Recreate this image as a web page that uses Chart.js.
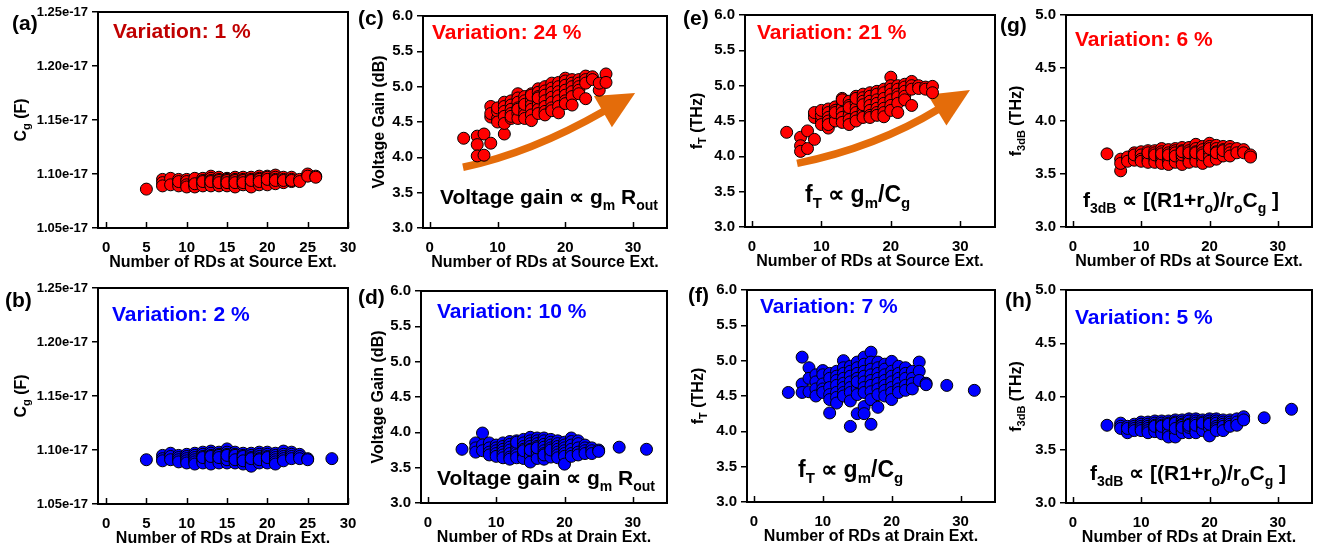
<!DOCTYPE html>
<html><head><meta charset="utf-8">
<script src="https://cdn.jsdelivr.net/npm/chart.js@4.4.0/dist/chart.umd.min.js"></script>
<style>
html,body{margin:0;padding:0;background:#fff;width:1322px;height:553px;overflow:hidden;position:relative;}
canvas{position:absolute;}
</style></head><body>
<script>
// ---------------- DATA ----------------
const sourceRDs = [5,
7,7,7,
8,8,
9,9,9,9,
10,10,10,10,
11,11,11,11,11,11,
12,12,12,12,12,12,
13,13,13,13,13,13,13,
14,14,14,14,14,14,14,
15,15,15,15,15,15,15,15,
16,16,16,16,16,16,16,16,
17,17,17,17,17,17,17,
18,18,18,18,18,18,18,
19,19,19,19,19,19,19,
20,20,20,20,20,20,20,
21,21,21,21,21,21,
22,22,22,22,22,
23,23,23,23,
24,24,
25,25,
26,26];

// Cg in units of 1e-17 F
const cgSource = [1.086,
1.095,1.092,1.089,
1.096,1.090,
1.095,1.092,1.089,1.093,
1.095,1.093,1.090,1.088,
1.094,1.092,1.090,1.088,1.096,1.091,
1.096,1.094,1.092,1.090,1.089,1.093,
1.098,1.096,1.094,1.092,1.090,1.089,1.093,
1.097,1.095,1.093,1.091,1.089,1.094,1.092,
1.096,1.095,1.093,1.091,1.090,1.089,1.094,1.092,
1.097,1.095,1.093,1.091,1.089,1.088,1.094,1.092,
1.097,1.095,1.093,1.091,1.090,1.094,1.092,
1.097,1.095,1.093,1.091,1.089,1.088,1.094,
1.098,1.096,1.094,1.092,1.090,1.095,1.093,
1.098,1.096,1.094,1.092,1.090,1.097,1.095,
1.099,1.097,1.095,1.093,1.091,1.094,
1.097,1.095,1.093,1.092,1.094,
1.097,1.095,1.093,1.094,
1.095,1.093,
1.100,1.098,
1.098,1.097];

const gainSource = [4.27,
4.30,4.18,4.02,
4.33,4.03,
4.20,4.72,4.57,4.62,
4.55,4.65,4.70,4.50,
4.33,4.78,4.72,4.65,4.58,4.48,
4.80,4.74,4.68,4.62,4.55,4.58,
4.90,4.84,4.78,4.70,4.62,4.55,4.68,
4.86,4.80,4.72,4.65,4.60,4.55,4.75,
4.90,4.85,4.80,4.74,4.68,4.60,4.52,4.88,
4.97,4.92,4.86,4.80,4.74,4.68,4.62,4.84,
5.00,4.94,4.88,4.80,4.72,4.65,4.60,
5.05,4.98,4.92,4.85,4.78,4.70,4.66,
5.06,5.00,4.93,4.87,4.80,4.72,4.63,
5.12,5.08,5.02,4.95,4.88,4.80,4.76,
5.10,5.05,5.00,4.93,4.86,4.74,
5.10,5.05,5.00,4.95,4.90,
5.15,5.10,5.05,4.83,
5.14,5.10,
4.95,5.05,
5.18,5.06];

const ftSource = [4.34,
4.27,4.15,4.07,
4.36,4.11,
4.24,4.60,4.55,4.62,
4.50,4.58,4.65,4.45,
4.40,4.67,4.62,4.55,4.50,4.45,
4.70,4.65,4.60,4.55,4.50,4.62,
4.82,4.75,4.68,4.62,4.55,4.48,4.80,
4.78,4.72,4.65,4.58,4.52,4.45,4.69,
4.85,4.80,4.75,4.68,4.62,4.55,4.50,4.82,
4.88,4.83,4.78,4.72,4.65,4.60,4.55,4.73,
4.90,4.85,4.78,4.72,4.65,4.58,4.55,
4.92,4.88,4.80,4.75,4.68,4.62,4.58,
4.95,4.90,4.82,4.75,4.68,4.62,4.56,
5.12,5.00,4.95,4.88,4.80,4.72,4.65,
5.00,4.95,4.88,4.84,4.75,4.62,
5.02,4.98,4.92,4.85,4.80,
5.06,5.00,4.95,4.72,
5.00,4.96,
4.98,4.95,
4.99,4.90];

const f3dbSource = [3.69,
3.53,3.64,3.60,
3.66,3.62,
3.70,3.67,3.63,3.68,
3.71,3.68,3.64,3.62,
3.72,3.69,3.66,3.63,3.61,3.70,
3.72,3.70,3.67,3.64,3.61,3.68,
3.74,3.71,3.68,3.65,3.62,3.60,3.69,
3.73,3.70,3.67,3.64,3.61,3.59,3.68,
3.74,3.72,3.69,3.66,3.63,3.61,3.70,3.67,
3.75,3.72,3.69,3.66,3.63,3.59,3.68,3.71,
3.75,3.72,3.69,3.66,3.63,3.61,3.70,
3.78,3.74,3.71,3.68,3.65,3.62,3.70,
3.76,3.73,3.70,3.67,3.64,3.60,3.68,
3.79,3.76,3.73,3.70,3.66,3.62,3.74,
3.77,3.74,3.71,3.68,3.64,3.70,
3.76,3.73,3.70,3.67,3.72,
3.76,3.73,3.70,3.67,
3.74,3.70,
3.73,3.70,
3.68,3.66];

const drainRDs = [5,
7,7,7,
8,8,8,
9,9,9,9,
10,10,10,10,10,
11,11,11,11,11,11,
12,12,12,12,12,12,12,
13,13,13,13,13,13,13,13,
14,14,14,14,14,14,14,14,
15,15,15,15,15,15,15,15,15,
16,16,16,16,16,16,16,16,16,
17,17,17,17,17,17,17,17,17,
18,18,18,18,18,18,18,18,
19,19,19,19,19,19,19,
20,20,20,20,20,20,20,
21,21,21,21,21,21,
22,22,22,22,22,
23,23,23,23,
24,24,24,
25,25,
28,
32];

const cgDrain = [1.091,
1.095,1.092,1.090,
1.097,1.094,1.091,
1.095,1.093,1.091,1.089,
1.096,1.094,1.092,1.090,1.088,
1.097,1.095,1.093,1.091,1.089,1.087,
1.098,1.096,1.094,1.092,1.090,1.088,1.093,
1.099,1.097,1.095,1.093,1.091,1.089,1.087,1.094,
1.098,1.096,1.094,1.092,1.090,1.088,1.095,1.093,
1.101,1.098,1.096,1.094,1.092,1.090,1.088,1.091,1.095,
1.098,1.096,1.094,1.092,1.090,1.088,1.093,1.095,1.091,
1.097,1.095,1.093,1.091,1.089,1.087,1.092,1.094,1.090,
1.097,1.095,1.093,1.091,1.089,1.087,1.085,1.092,
1.098,1.096,1.094,1.092,1.090,1.088,1.091,
1.098,1.096,1.094,1.092,1.090,1.088,1.093,
1.097,1.095,1.093,1.091,1.089,1.087,
1.099,1.096,1.094,1.092,1.090,
1.098,1.096,1.094,1.092,
1.096,1.094,1.092,
1.092,1.091,
1.092,
1.091];

const gainDrain = [3.76,
3.85,3.78,3.72,
3.99,3.82,3.74,
3.85,3.78,3.72,3.68,
3.82,3.78,3.74,3.70,3.66,
3.85,3.80,3.76,3.72,3.68,3.64,
3.87,3.83,3.79,3.75,3.70,3.65,3.62,
3.88,3.84,3.80,3.76,3.72,3.68,3.64,3.86,
3.90,3.85,3.80,3.76,3.72,3.68,3.63,3.74,
3.93,3.88,3.84,3.80,3.76,3.72,3.66,3.58,3.75,
3.92,3.88,3.84,3.80,3.76,3.72,3.68,3.63,3.78,
3.92,3.88,3.83,3.79,3.74,3.70,3.66,3.62,3.68,
3.90,3.86,3.82,3.78,3.74,3.70,3.65,3.75,
3.88,3.84,3.80,3.76,3.72,3.68,3.64,
3.86,3.82,3.78,3.74,3.70,3.66,3.55,
3.92,3.87,3.82,3.76,3.70,3.66,
3.88,3.84,3.78,3.72,3.68,
3.82,3.78,3.74,3.70,
3.78,3.74,3.70,
3.75,3.73,
3.79,
3.76];

const ftDrain = [4.55,
5.05,4.67,4.55,
4.90,4.75,4.56,
4.80,4.70,4.60,4.50,
4.86,4.80,4.67,4.60,4.55,
4.82,4.75,4.62,4.52,4.45,4.26,
4.85,4.78,4.72,4.65,4.55,4.48,4.40,
5.00,4.90,4.82,4.75,4.68,4.62,4.55,4.50,
4.92,4.85,4.78,4.70,4.62,4.55,4.43,4.07,
4.98,4.90,4.82,4.75,4.68,4.60,4.52,4.25,4.70,
5.05,4.95,4.85,4.78,4.70,4.62,4.55,4.35,4.25,
5.12,4.98,4.88,4.80,4.72,4.65,4.56,4.45,4.10,
4.98,4.90,4.82,4.75,4.68,4.60,4.52,4.34,
4.95,4.88,4.80,4.72,4.65,4.58,4.50,
4.99,4.85,4.78,4.70,4.62,4.55,4.45,
4.92,4.82,4.75,4.68,4.60,4.55,
4.90,4.82,4.75,4.65,4.58,
4.85,4.75,4.68,4.60,
4.98,4.85,4.72,
4.68,4.66,
4.65,
4.58];

const f3dbDrain = [3.73,
3.75,3.72,3.70,
3.66,3.72,3.70,
3.74,3.72,3.70,3.68,
3.76,3.74,3.72,3.70,3.68,
3.76,3.74,3.72,3.70,3.68,3.66,
3.77,3.75,3.73,3.71,3.69,3.67,3.72,
3.77,3.75,3.73,3.71,3.69,3.67,3.65,3.72,
3.77,3.75,3.73,3.71,3.68,3.65,3.62,3.74,
3.78,3.76,3.74,3.72,3.69,3.66,3.62,3.75,3.70,
3.78,3.76,3.74,3.72,3.70,3.68,3.66,3.73,3.71,
3.79,3.77,3.74,3.72,3.70,3.68,3.66,3.71,3.73,
3.79,3.77,3.75,3.72,3.70,3.68,3.66,3.73,
3.78,3.76,3.74,3.72,3.70,3.68,3.75,
3.79,3.77,3.75,3.72,3.70,3.63,3.74,
3.79,3.77,3.75,3.72,3.70,3.68,
3.78,3.76,3.74,3.72,3.68,
3.78,3.76,3.74,3.72,
3.79,3.76,3.73,
3.81,3.78,
3.80,
3.88];

// ticks
const xTicksCg = [0,5,10,15,20,25,30];
const xTickLabelsCg = ['0','5','10','15','20','25','30'];
const xTicksWide = [0,10,20,30];
const xTickLabelsWide = ['0','10','20','30'];
const cgTicks = [1.05,1.10,1.15,1.20,1.25];
const cgTickLabels = ['1.05e-17','1.10e-17','1.15e-17','1.20e-17','1.25e-17'];
const sixTicks = [3.0,3.5,4.0,4.5,5.0,5.5,6.0];
const sixTickLabels = ['3.0','3.5','4.0','4.5','5.0','5.5','6.0'];
const fiveTicks = [3.0,3.5,4.0,4.5,5.0];
const fiveTickLabels = ['3.0','3.5','4.0','4.5','5.0'];

// trend arrows (data coordinates): start, control, head base, tip
const arrowGainSource = [[4.9,3.86],[14.9,4.06],[25.8,4.66],[30.3,4.91]];
const arrowFtSource = [[6.5,3.90],[17.9,4.13],[26.9,4.67],[31.4,4.94]];

// ---------------- LAYOUT / STYLE ----------------
const RED = '#FF0000', BLUE = '#0000FF', ORANGE = '#E46C0A';
const FONT = '"Liberation Sans", Arial, Helvetica, sans-serif';
const XT_SRC = 'Number of RDs at Source Ext.';
const XT_DRN = 'Number of RDs at Drain Ext.';
const YT_CG = [['C',0],['g',1],[' (F)',0]];
const YT_GAIN = [['Voltage Gain (dB)',0]];
const YT_FT = [['f',0],['T',1],[' (THz)',0]];
const YT_F3 = [['f',0],['3dB',1],[' (THz)',0]];
const FM_GAIN = [['Voltage gain \u221D g',0],['m',1],[' R',0],['out',1]];
const FM_FT = [['f',0],['T',1],[' \u221D g',0],['m',1],['/C',0],['g',1]];
const FM_F3 = [['f',0],['3dB',1],[' \u221D [(R1+r',0],['o',1],[')/r',0],['o',1],['C',0],['g',1],[' ]',0]];

const panels = [
 {box:[98,12,348,228], xs:sourceRDs, ys:cgSource, xr:[-1,30], xt:xTicksCg, xl:xTickLabelsCg, yr:[1.05,1.25], yt:cgTicks, yl:cgTickLabels, ytSize:13,
  color:RED, label:'(a)', lab:[-86,18], vtxt:'Variation: 1 %', vcol:'#C00000', vpos:[15,20], ytitle:YT_CG, ytx:-78, xtitle:XT_SRC},
 {box:[98,288,348,504], xs:drainRDs, ys:cgDrain, xr:[-1,30], xt:xTicksCg, xl:xTickLabelsCg, yr:[1.05,1.25], yt:cgTicks, yl:cgTickLabels, ytSize:13,
  color:BLUE, label:'(b)', lab:[-93,19], vtxt:'Variation: 2 %', vcol:BLUE, vpos:[14,27], ytitle:YT_CG, ytx:-78, xtitle:XT_DRN},
 {box:[423,16,667,228], xs:sourceRDs, ys:gainSource, xr:[-1,35], xt:xTicksWide, xl:xTickLabelsWide, yr:[3,6], yt:sixTicks, yl:sixTickLabels, ytSize:15,
  color:RED, label:'(c)', lab:[-65,9], vtxt:'Variation: 24 %', vcol:RED, vpos:[9,17], ytitle:YT_GAIN, ytx:-45, xtitle:XT_SRC,
  formula:FM_GAIN, fpos:[17,188], fsize:21, arrow:arrowGainSource},
 {box:[421,291,667,503], xs:drainRDs, ys:gainDrain, xr:[-1,35], xt:xTicksWide, xl:xTickLabelsWide, yr:[3,6], yt:sixTicks, yl:sixTickLabels, ytSize:15,
  color:BLUE, label:'(d)', lab:[-63,13], vtxt:'Variation: 10 %', vcol:BLUE, vpos:[16,21], ytitle:YT_GAIN, ytx:-44, xtitle:XT_DRN,
  formula:FM_GAIN, fpos:[16,194], fsize:21},
 {box:[745,15,995,227], xs:sourceRDs, ys:ftSource, xr:[-1,35], xt:xTicksWide, xl:xTickLabelsWide, yr:[3,6], yt:sixTicks, yl:sixTickLabels, ytSize:15,
  color:RED, label:'(e)', lab:[-62,10], vtxt:'Variation: 21 %', vcol:RED, vpos:[12,18], ytitle:YT_FT, ytx:-49, xtitle:XT_SRC,
  formula:FM_FT, fpos:[60,187], fsize:23, arrow:arrowFtSource},
 {box:[747,290,995,502], xs:drainRDs, ys:ftDrain, xr:[-1,35], xt:xTicksWide, xl:xTickLabelsWide, yr:[3,6], yt:sixTicks, yl:sixTickLabels, ytSize:15,
  color:BLUE, label:'(f)', lab:[-59,12], vtxt:'Variation: 7 %', vcol:BLUE, vpos:[13,17], ytitle:YT_FT, ytx:-50, xtitle:XT_DRN,
  formula:FM_FT, fpos:[51,187], fsize:23},
 {box:[1066,15,1312,227], xs:sourceRDs, ys:f3dbSource, xr:[-1,35], xt:xTicksWide, xl:xTickLabelsWide, yr:[3,5], yt:fiveTicks, yl:fiveTickLabels, ytSize:15,
  color:RED, label:'(g)', lab:[-66,17], vtxt:'Variation: 6 %', vcol:RED, vpos:[9,25], ytitle:YT_F3, ytx:-51, xtitle:XT_SRC,
  formula:FM_F3, fpos:[17,192], fsize:21},
 {box:[1066,290,1312,503], xs:drainRDs, ys:f3dbDrain, xr:[-1,35], xt:xTicksWide, xl:xTickLabelsWide, yr:[3,5], yt:fiveTicks, yl:fiveTickLabels, ytSize:15,
  color:BLUE, label:'(h)', lab:[-61,17], vtxt:'Variation: 5 %', vcol:BLUE, vpos:[9,28], ytitle:YT_F3, ytx:-51, xtitle:XT_DRN,
  formula:FM_F3, fpos:[24,190], fsize:21}
];

// ---------------- DRAWING ----------------
function richWidth(ctx, parts, size, sub) {
  let w = 0;
  for (const [t,s] of parts) { ctx.font = 'bold ' + (s ? sub : size) + 'px ' + FONT; w += ctx.measureText(t).width; }
  return w;
}
function drawRich(ctx, parts, x, y, size, sub, color) {
  ctx.fillStyle = color; ctx.textBaseline = 'alphabetic'; ctx.textAlign = 'left';
  let cx = x;
  for (const [t,s] of parts) {
    ctx.font = 'bold ' + (s ? sub : size) + 'px ' + FONT;
    ctx.fillText(t, cx, s ? y + Math.round(size*0.28) : y);
    cx += ctx.measureText(t).width;
  }
}

function panelPlugin(p) {
  return {
    id: 'panelDecor',
    beforeDatasetsDraw(chart) {
      if (!p.arrow) return;
      const ctx = chart.ctx, sx = chart.scales.x, sy = chart.scales.y;
      const P = p.arrow.map(([x,y]) => [sx.getPixelForValue(x), sy.getPixelForValue(y)]);
      ctx.save();
      ctx.strokeStyle = ORANGE; ctx.fillStyle = ORANGE; ctx.lineWidth = 7.5; ctx.lineCap = 'butt';
      ctx.beginPath(); ctx.moveTo(P[0][0], P[0][1]); ctx.quadraticCurveTo(P[1][0], P[1][1], P[2][0], P[2][1]); ctx.stroke();
      const dx = P[3][0]-P[2][0], dy = P[3][1]-P[2][1], len = Math.hypot(dx,dy);
      const nx = -dy/len, ny = dx/len, hw = 18;
      const bx = P[2][0] - dx/len*2, by = P[2][1] - dy/len*2;
      ctx.beginPath(); ctx.moveTo(bx+nx*hw, by+ny*hw); ctx.lineTo(P[3][0], P[3][1]); ctx.lineTo(bx-nx*hw, by-ny*hw); ctx.closePath(); ctx.fill();
      ctx.restore();
    },
    afterDraw(chart) {
      const ctx = chart.ctx, ca = chart.chartArea, sx = chart.scales.x;
      ctx.save();
      ctx.strokeStyle = '#000'; ctx.lineWidth = 2;
      ctx.strokeRect(ca.left, ca.top, ca.right-ca.left, ca.bottom-ca.top);
      ctx.lineWidth = 1.5;
      for (const v of p.xt) {
        const x = Math.round(sx.getPixelForValue(v)) + 0.5;
        ctx.beginPath(); ctx.moveTo(x, ca.bottom); ctx.lineTo(x, ca.bottom-6); ctx.stroke();
      }
      ctx.fillStyle = '#000'; ctx.font = 'bold 21px ' + FONT; ctx.textAlign = 'left'; ctx.textBaseline = 'alphabetic';
      ctx.fillText(p.label, ca.left + p.lab[0], ca.top + p.lab[1]);
      ctx.fillStyle = p.vcol; ctx.font = 'bold 21px ' + FONT; ctx.textBaseline = 'middle';
      ctx.fillText(p.vtxt, ca.left + p.vpos[0], ca.top + p.vpos[1]);
      if (p.formula) drawRich(ctx, p.formula, ca.left + p.fpos[0], ca.top + p.fpos[1], p.fsize, Math.round(p.fsize*0.66), '#000');
      ctx.fillStyle = '#000'; ctx.font = 'bold 16px ' + FONT; ctx.textAlign = 'center'; ctx.textBaseline = 'middle';
      ctx.fillText(p.xtitle, (ca.left+ca.right)/2, ca.bottom + 35);
      const w = richWidth(ctx, p.ytitle, 16, 11);
      ctx.save();
      ctx.translate(ca.left + p.ytx, (ca.top+ca.bottom)/2);
      ctx.rotate(-Math.PI/2);
      drawRich(ctx, p.ytitle, -w/2, 6, 16, 11, '#000');
      ctx.restore();
      ctx.restore();
    }
  };
}

Chart.defaults.font.family = FONT;
Chart.defaults.font.weight = 'bold';
Chart.defaults.color = '#000';

const YW = 100, PADT = 12, PADR = 14, XH = 48;
panels.forEach(p => {
  const [L,T,R,B] = p.box;
  const w = R - L + YW + PADR, h = B - T + PADT + XH;
  const cv = document.createElement('canvas');
  cv.width = w; cv.height = h;
  cv.style.left = (L - YW) + 'px'; cv.style.top = (T - PADT) + 'px';
  cv.style.width = w + 'px'; cv.style.height = h + 'px';
  document.body.appendChild(cv);
  const n = Math.min(p.xs.length, p.ys.length);
  const pts = [];
  for (let i = 0; i < n; i++) pts.push({x: p.xs[i], y: p.ys[i]});
  new Chart(cv, {
    type: 'scatter',
    data: {datasets: [{data: pts, backgroundColor: p.color, borderColor: '#000', borderWidth: 1,
      pointRadius: 6, pointHoverRadius: 6}]},
    options: {
      responsive: false, animation: false, devicePixelRatio: 1, events: [],
      layout: {padding: {left: 0, top: PADT, right: PADR, bottom: 0}},
      plugins: {legend: {display: false}, tooltip: {enabled: false}},
      scales: {
        x: {type: 'linear', min: p.xr[0], max: p.xr[1],
          afterBuildTicks: s => { s.ticks = p.xt.map(v => ({value: v})); },
          afterFit: s => { s.height = XH; s.paddingLeft = 0; s.paddingRight = 0; },
          grid: {display: false, drawTicks: false}, border: {display: false},
          ticks: {padding: 11, color: '#000', font: {size: 15, weight: 'bold'}, maxRotation: 0, autoSkip: false,
            callback: (v, i) => p.xl[i]}},
        y: {type: 'linear', min: p.yr[0], max: p.yr[1],
          afterBuildTicks: s => { s.ticks = p.yt.map(v => ({value: v})); },
          afterFit: s => { s.width = YW; s.paddingTop = 0; s.paddingBottom = 0; },
          grid: {display: true, drawOnChartArea: false, drawTicks: true, tickLength: 6, color: '#000', lineWidth: 1.5},
          border: {display: false},
          ticks: {padding: 4, color: '#000', font: {size: p.ytSize, weight: 'bold'}, autoSkip: false,
            callback: (v, i) => p.yl[i]}}
      }
    },
    plugins: [panelPlugin(p)]
  });
});
</script>
</body></html>
